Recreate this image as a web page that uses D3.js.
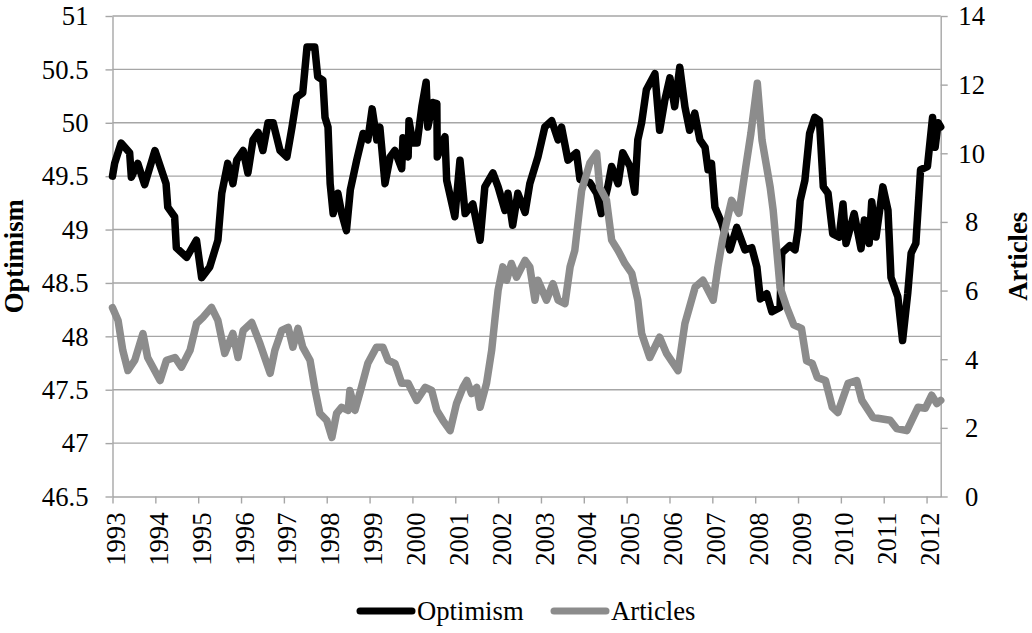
<!DOCTYPE html>
<html>
<head>
<meta charset="utf-8">
<script src="https://cdn.jsdelivr.net/npm/d3@7/dist/d3.min.js"></script>
<style>
  html, body { margin: 0; padding: 0; background: #fff; }
  svg { display: block; }
</style>
</head>
<body>
<div id="chart"></div>
<script>
// decimal years
const optYears = [1993.0, 1993.05, 1993.2, 1993.4, 1993.44, 1993.59, 1993.75, 1993.99, 1994.25, 1994.29,
  1994.45, 1994.49, 1994.73, 1994.96, 1995.08, 1995.27, 1995.46, 1995.55, 1995.69, 1995.81,
  1995.9, 1996.05, 1996.16, 1996.28, 1996.4, 1996.51, 1996.63, 1996.75, 1996.91, 1997.07,
  1997.19, 1997.3, 1997.44, 1997.54, 1997.72, 1997.79, 1997.91, 1997.96, 1998.03, 1998.08,
  1998.15, 1998.26, 1998.35, 1998.46, 1998.55, 1998.7, 1998.85, 1998.96, 1999.06, 1999.17,
  1999.24, 1999.36, 1999.48, 1999.59, 1999.75, 1999.78, 1999.9, 1999.92, 2000.01, 2000.11,
  2000.22, 2000.32, 2000.36, 2000.48, 2000.57, 2000.58, 2000.76, 2000.8, 2000.99, 2001.11,
  2001.23, 2001.41, 2001.58, 2001.69, 2001.88, 2002.0, 2002.16, 2002.23, 2002.34, 2002.46,
  2002.63, 2002.74, 2002.93, 2003.09, 2003.25, 2003.4, 2003.48, 2003.63, 2003.83, 2003.91,
  2004.14, 2004.3, 2004.41, 2004.56, 2004.65, 2004.8, 2004.91, 2005.08, 2005.19, 2005.26,
  2005.35, 2005.46, 2005.66, 2005.77, 2005.89, 2006.01, 2006.12, 2006.24, 2006.36, 2006.47,
  2006.59, 2006.71, 2006.83, 2006.9, 2006.98, 2007.06, 2007.22, 2007.41, 2007.57, 2007.76,
  2007.92, 2008.04, 2008.12, 2008.27, 2008.39, 2008.58, 2008.62, 2008.81, 2008.93, 2009.0,
  2009.05, 2009.16, 2009.27, 2009.39, 2009.5, 2009.59, 2009.7, 2009.81, 2009.96, 2010.05,
  2010.12, 2010.31, 2010.47, 2010.55, 2010.66, 2010.72, 2010.82, 2010.98, 2011.1, 2011.17,
  2011.33, 2011.44, 2011.56, 2011.64, 2011.75, 2011.86, 2012.02, 2012.14, 2012.2, 2012.27, 2012.33];
const optValues = [49.5, 49.62, 49.81, 49.72, 49.49, 49.62, 49.42, 49.74, 49.43, 49.21,
  49.12, 48.83, 48.74, 48.9, 48.55, 48.65, 48.9, 49.34, 49.62, 49.43,
  49.65, 49.74, 49.53, 49.84, 49.91, 49.74, 50.0, 50.0, 49.74, 49.68,
  49.96, 50.24, 50.28, 50.71, 50.71, 50.43, 50.4, 50.05, 49.96, 49.43,
  49.15, 49.34, 49.15, 48.99, 49.37, 49.65, 49.9, 49.84, 50.13, 49.84,
  49.96, 49.43, 49.68, 49.74, 49.57, 49.86, 49.68, 50.02, 49.81, 49.81,
  50.15, 50.38, 49.96, 50.19, 50.18, 49.68, 49.87, 49.46, 49.12, 49.65,
  49.15, 49.24, 48.9, 49.4, 49.53, 49.4, 49.18, 49.34, 49.04, 49.34,
  49.16, 49.43, 49.68, 49.96, 50.02, 49.84, 49.96, 49.65, 49.72, 49.47,
  49.44, 49.34, 49.15, 49.4, 49.59, 49.43, 49.72, 49.59, 49.35, 49.84,
  50.0, 50.31, 50.46, 49.93, 50.21, 50.42, 50.15, 50.52, 50.15, 49.93,
  50.09, 49.84, 49.77, 49.56, 49.62, 49.21, 49.06, 48.81, 49.02, 48.81,
  48.83, 48.65, 48.35, 48.4, 48.23, 48.27, 48.78, 48.85, 48.81, 49.0,
  49.27, 49.46, 49.9, 50.05, 50.02, 49.4, 49.34, 48.96, 48.93, 49.24,
  48.87, 49.15, 48.82, 49.09, 48.87, 49.26, 48.93, 49.4, 49.18, 48.55,
  48.37, 47.96, 48.4, 48.78, 48.87, 49.56, 49.59, 50.05, 49.77, 50.0, 49.96];

const artYears = [1993.0, 1993.13, 1993.24, 1993.36, 1993.52, 1993.71, 1993.82, 1994.11, 1994.26, 1994.46,
  1994.61, 1994.81, 1994.96, 1995.11, 1995.31, 1995.46, 1995.62, 1995.81, 1995.93, 1996.05,
  1996.25, 1996.44, 1996.68, 1996.79, 1996.95, 1997.1, 1997.21, 1997.33, 1997.44, 1997.61,
  1997.73, 1997.84, 1998.0, 1998.12, 1998.23, 1998.35, 1998.5, 1998.54, 1998.66, 1998.81,
  1998.96, 1999.16, 1999.31, 1999.43, 1999.59, 1999.75, 1999.9, 2000.1, 2000.3, 2000.45,
  2000.57, 2000.71, 2000.88, 2001.03, 2001.18, 2001.27, 2001.38, 2001.5, 2001.58, 2001.73,
  2001.85, 2001.93, 2002.0, 2002.11, 2002.2, 2002.31, 2002.43, 2002.63, 2002.74, 2002.86,
  2002.93, 2003.13, 2003.28, 2003.4, 2003.56, 2003.68, 2003.79, 2003.95, 2004.14, 2004.3,
  2004.37, 2004.53, 2004.65, 2004.8, 2004.96, 2005.12, 2005.26, 2005.35, 2005.54, 2005.77,
  2005.93, 2006.2, 2006.36, 2006.6, 2006.78, 2007.02, 2007.13, 2007.24, 2007.45, 2007.62,
  2007.78, 2007.9, 2008.05, 2008.16, 2008.35, 2008.42, 2008.58, 2008.74, 2008.9, 2009.08,
  2009.2, 2009.33, 2009.45, 2009.64, 2009.8, 2009.93, 2010.17, 2010.37, 2010.49, 2010.75,
  2011.15, 2011.3, 2011.54, 2011.8, 2011.97, 2012.12, 2012.24, 2012.33];
const artValues = [5.5, 5.13, 4.26, 3.67, 3.97, 4.75, 4.05, 3.38, 3.97, 4.05,
  3.77, 4.26, 5.04, 5.22, 5.51, 5.13, 4.17, 4.75, 4.05, 4.84,
  5.07, 4.46, 3.59, 4.26, 4.84, 4.93, 4.35, 4.9, 4.35, 3.97,
  3.09, 2.42, 2.22, 1.72, 2.42, 2.6, 2.51, 3.09, 2.51, 3.18,
  3.88, 4.35, 4.35, 3.97, 3.88, 3.3, 3.3, 2.8, 3.18, 3.09,
  2.51, 2.22, 1.92, 2.71, 3.18, 3.38, 3.0, 3.18, 2.6, 3.3,
  4.26, 5.22, 6.01, 6.69, 6.3, 6.79, 6.39, 6.88, 6.69, 5.72,
  6.3, 5.72, 6.2, 5.72, 5.62, 6.69, 7.17, 8.92, 9.71, 10.0,
  9.01, 8.63, 7.47, 7.17, 6.79, 6.5, 5.72, 4.75, 4.05, 4.64,
  4.17, 3.67, 5.04, 6.1, 6.3, 5.72, 6.69, 7.5, 8.63, 8.25,
  9.6, 10.58, 12.04, 10.38, 9.01, 8.34, 6.1, 5.5, 5.0, 4.9,
  3.95, 3.88, 3.47, 3.38, 2.6, 2.45, 3.3, 3.38, 2.8, 2.3,
  2.22, 1.98, 1.92, 2.6, 2.57, 2.95, 2.71, 2.8];

const yearTicks = d3.range(1993, 2013);
const leftTicks = d3.range(46.5, 51.01, 0.5);
const rightTicks = d3.range(0, 14.01, 2);
const seriesNames = ["Optimism", "Articles"];
const seriesColors = ["#000000", "#8c8c8c"];

const W = 1032, H = 633;
const plot = { left: 112.5, right: 940.7, top: 16, bottom: 496.5 };
const FONT = "'Liberation Serif', 'Times New Roman', serif";
const FS = "26.67px";

const svg = d3.select("#chart").append("svg")
  .attr("width", W).attr("height", H);

const x = d3.scaleLinear().domain([1993, 2012.33]).range([plot.left, plot.right]);
const yL = d3.scaleLinear().domain([46.5, 51]).range([plot.bottom, plot.top]);
const yR = d3.scaleLinear().domain([0, 14]).range([plot.bottom, plot.top]);

const gridColor = "#a6a6a6";
const fmt = d => String(+d.toFixed(1));

// gridlines
svg.append("g").selectAll("line")
  .data(leftTicks.filter(d => d > 46.5))
  .enter().append("line")
  .attr("x1", plot.left).attr("x2", plot.right)
  .attr("y1", d => yL(d)).attr("y2", d => yL(d))
  .attr("stroke", gridColor).attr("stroke-width", 1.4);

function styleAxis(g) {
  g.attr("font-family", null).attr("font-size", null);
  g.select(".domain").attr("stroke", gridColor).attr("stroke-width", 1.4);
  g.selectAll(".tick line").attr("stroke", gridColor).attr("stroke-width", 1.4);
  g.selectAll(".tick text")
    .style("font-family", FONT).style("font-size", FS).attr("fill", "#000");
}

const axL = svg.append("g")
  .attr("transform", `translate(${plot.left},0)`)
  .call(d3.axisLeft(yL).tickValues(leftTicks).tickFormat(fmt).tickSize(7).tickPadding(17).tickSizeOuter(0))
  .call(styleAxis);
axL.selectAll(".tick text").attr("dy", "0.33em");

const axR = svg.append("g")
  .attr("transform", `translate(${plot.right},0)`)
  .call(d3.axisRight(yR).tickValues(rightTicks).tickFormat(fmt).tickSize(7).tickSizeOuter(0))
  .call(styleAxis);
axR.selectAll(".tick text").attr("text-anchor", "middle").attr("x", 31).attr("dy", "0.33em");

const axB = svg.append("g")
  .attr("transform", `translate(0,${plot.bottom})`)
  .call(d3.axisBottom(x).tickValues(yearTicks).tickFormat(d3.format("d")).tickSize(7).tickSizeOuter(0))
  .call(styleAxis);
axB.selectAll(".tick text")
  .attr("text-anchor", "end")
  .attr("transform", "translate(3,16) rotate(-90)")
  .attr("x", 0).attr("y", 0).attr("dy", "0.34em");

// series
const lineOpt = d3.line().x(d => x(d[0])).y(d => yL(d[1]));
const lineArt = d3.line().x(d => x(d[0])).y(d => yR(d[1]));

svg.append("path")
  .datum(d3.zip(optYears, optValues))
  .attr("d", lineOpt)
  .attr("fill", "none").attr("stroke", seriesColors[0])
  .attr("stroke-width", 7.5).attr("stroke-linejoin", "round").attr("stroke-linecap", "round");

svg.append("path")
  .datum(d3.zip(artYears, artValues))
  .attr("d", lineArt)
  .attr("fill", "none").attr("stroke", seriesColors[1])
  .attr("stroke-width", 7.5).attr("stroke-linejoin", "round").attr("stroke-linecap", "round");

// axis titles
svg.append("text")
  .attr("transform", `translate(23,${(plot.top + plot.bottom) / 2}) rotate(-90)`)
  .attr("text-anchor", "middle")
  .style("font-family", FONT).style("font-size", FS).style("font-weight", "bold")
  .text("Optimism");

svg.append("text")
  .attr("transform", `translate(1027,${(plot.top + plot.bottom) / 2}) rotate(-90)`)
  .attr("text-anchor", "middle")
  .style("font-family", FONT).style("font-size", FS).style("font-weight", "bold")
  .text("Articles");

// legend
const legend = svg.append("g").attr("transform", "translate(0,611)");
const legX = [360, 554];
seriesNames.forEach((name, i) => {
  legend.append("line")
    .attr("x1", legX[i]).attr("x2", legX[i] + 52)
    .attr("y1", 0).attr("y2", 0)
    .attr("stroke", seriesColors[i]).attr("stroke-width", 7).attr("stroke-linecap", "round");
  legend.append("text")
    .attr("x", legX[i] + 57).attr("y", 9)
    .style("font-family", FONT).style("font-size", FS)
    .text(name);
});
</script>
</body>
</html>
